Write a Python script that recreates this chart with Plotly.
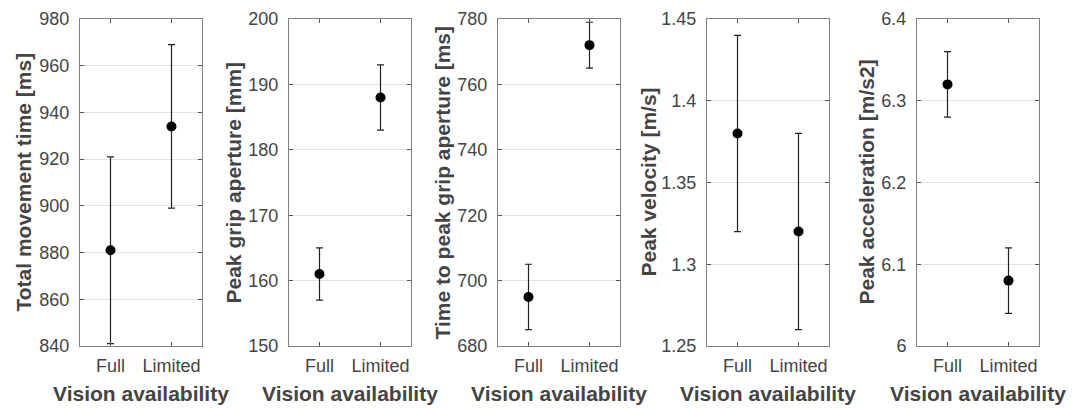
import plotly.graph_objects as go

conditions = ["Full", "Limited"]
cond_pos = [1, 2]

titles = ["Total movement time [ms]", "Peak grip aperture [mm]",
          "Time to peak grip aperture [ms]", "Peak velocity [m/s]",
          "Peak acceleration [m/s2]"]

means = [[881, 934], [161, 188], [695, 772], [1.38, 1.32], [6.32, 6.08]]
err_plus = [[40, 35], [4, 5], [10, 7], [0.06, 0.06], [0.04, 0.04]]
err_minus = [[40, 35], [4, 5], [10, 7], [0.06, 0.06], [0.04, 0.04]]

y_ranges = [[840, 980], [150, 200], [680, 780], [1.25, 1.45], [6.0, 6.4]]
y_ticks = [[840, 860, 880, 900, 920, 940, 960, 980],
           [150, 160, 170, 180, 190, 200],
           [680, 700, 720, 740, 760, 780],
           [1.25, 1.3, 1.35, 1.4, 1.45],
           [6, 6.1, 6.2, 6.3, 6.4]]
y_ticktext = [[str(v) for v in y_ticks[0]],
              [str(v) for v in y_ticks[1]],
              [str(v) for v in y_ticks[2]],
              ["1.25", "1.3", "1.35", "1.4", "1.45"],
              ["6", "6.1", "6.2", "6.3", "6.4"]]

W, H = 1085, 408
OFF = 8  # page body margin offset
box_left = [80, 289, 498, 707, 917]
box_w = 122
box_top, box_bottom = 19, 346
ytitle_x = [23, 233, 442, 648, 866]
xtitle_y = 393


def fx(px):
    return (px - OFF) / W


def fy(py):
    return 1 - (py - OFF) / H


fig = go.Figure()
font_fam = "Liberation Sans, Arial, sans-serif"
txt_col = "#444444"
annotations = []

for i in range(5):
    ax = "" if i == 0 else str(i + 1)
    fig.add_trace(go.Scatter(
        x=cond_pos, y=means[i], mode="markers",
        marker=dict(color="black", size=10),
        error_y=dict(type="data", symmetric=False, array=err_plus[i],
                     arrayminus=err_minus[i], color="#222", thickness=1.2, width=3.5),
        xaxis="x" + ax, yaxis="y" + ax, showlegend=False, hoverinfo="skip",
        cliponaxis=False))
    fig.layout["xaxis" + ax] = dict(
        domain=[fx(box_left[i]), fx(box_left[i] + box_w)], anchor="y" + ax,
        range=[0.5, 2.5], automargin=False, ticklabeloverflow="allow",
        tickmode="array", tickvals=cond_pos, ticktext=conditions,
        ticks="inside", ticklen=4, tickcolor="#555", mirror="ticks",
        showline=True, linecolor="#808080", linewidth=1, showgrid=False,
        zeroline=False, tickfont=dict(family=font_fam, size=18, color=txt_col),
        ticklabelstandoff=3)
    fig.layout["yaxis" + ax] = dict(
        domain=[fy(box_bottom), fy(box_top)], anchor="x" + ax,
        range=y_ranges[i], tickmode="array", tickvals=y_ticks[i], ticktext=y_ticktext[i],
        automargin=False, ticklabeloverflow="allow",
        ticks="inside", ticklen=4, tickcolor="#555", mirror="ticks",
        showline=True, linecolor="#808080", linewidth=1,
        showgrid=True, gridcolor="#e3e3e3", gridwidth=1, zeroline=False,
        tickfont=dict(family=font_fam, size=18, color=txt_col),
        ticklabelstandoff=6)
    annotations.append(dict(
        text="<b>" + titles[i] + "</b>", xref="paper", yref="paper",
        x=fx(ytitle_x[i]), y=fy((box_top + box_bottom) / 2),
        textangle=-90, showarrow=False, xanchor="center", yanchor="middle",
        font=dict(family=font_fam, size=21, color=txt_col)))
    annotations.append(dict(
        text="<b>Vision availability</b>", xref="paper", yref="paper",
        x=fx(box_left[i] + box_w / 2), y=fy(xtitle_y),
        showarrow=False, xanchor="center", yanchor="middle",
        font=dict(family=font_fam, size=21, color=txt_col)))

fig.update_layout(template="none", width=W, height=H,
                  margin=dict(l=0, r=0, t=0, b=0, pad=0, autoexpand=False),
                  plot_bgcolor="white", paper_bgcolor="white",
                  annotations=annotations)
fig.write_html("out.html")
